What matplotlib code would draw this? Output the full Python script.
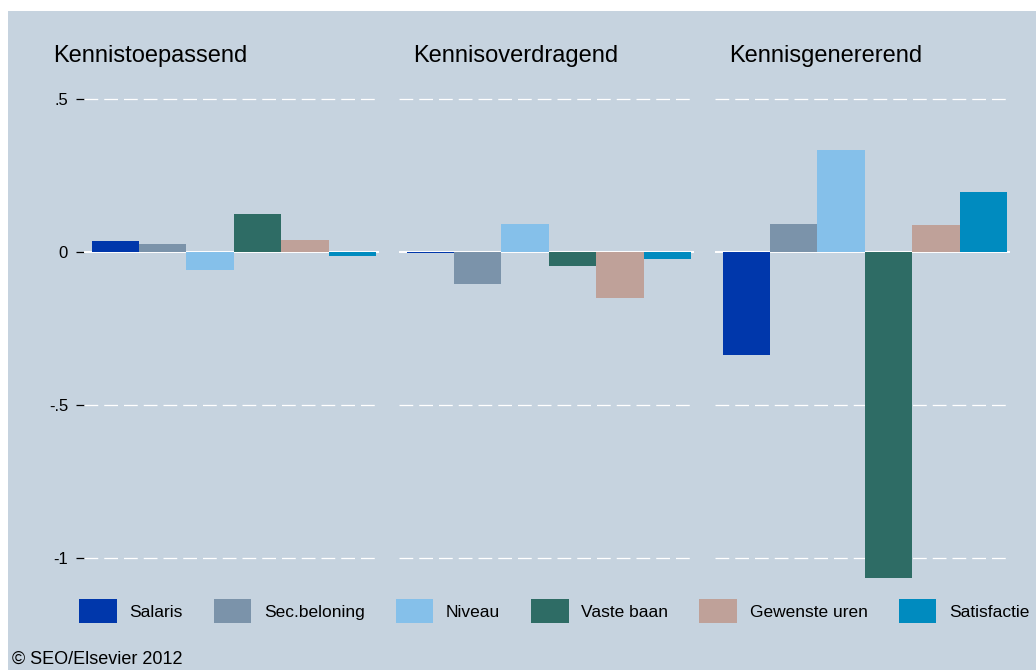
import numpy as np
import matplotlib
matplotlib.use('Agg')
import matplotlib.pyplot as plt
from matplotlib.patches import Rectangle

plt.rcParams['font.family'] = ['Liberation Sans', 'DejaVu Sans']

# data
panels = ['Kennistoepassend', 'Kennisoverdragend', 'Kennisgenererend']
series = ['Salaris', 'Sec.beloning', 'Niveau', 'Vaste baan', 'Gewenste uren', 'Satisfactie']
toepassend = [0.036, 0.026, -0.058, 0.124, 0.039, -0.013]
overdragend = [-0.003, -0.106, 0.092, -0.046, -0.151, -0.024]
genererend = [-0.338, 0.093, 0.333, -1.065, 0.087, 0.196]
yticks = [-1, -0.5, 0, 0.5]
yticklabels = ['-1', '-.5', '0', '.5']

colors = ['#0037AB', '#7B93AA', '#85C0EA', '#2E6C65', '#BFA199', '#008BBF']
bg = '#C6D3DF'

W, H = 1036, 670
fig = plt.figure(figsize=(W/100, H/100), dpi=100)
fig.patch.set_facecolor('white')

#light blue background area (white margin top and left)
fig.patches.append(Rectangle((8/W, 0), 1 - 8/W, 1 - 11/H, transform=fig.transFigure,
                             facecolor=bg, edgecolor='none', zorder=-5))

lefts = [84, 399, 715]
width = 295
top_px, bot_px = 80, 585
ymax = (252 - top_px)/306
ymin = (252 - bot_px)/306

values = [toepassend, overdragend, genererend]
handles = None
for i, (name, vals) in enumerate(zip(panels, values)):
    ax = fig.add_axes([lefts[i]/W, 1 - bot_px/H, width/W, (bot_px - top_px)/H])
    ax.set_facecolor('none')
    for s in ax.spines.values():
        s.set_visible(False)
    x = np.arange(len(vals))
    bars = ax.bar(x, vals, width=1.0, color=colors, edgecolor='none', zorder=3)
    if handles is None:
        handles = bars
    for yv in yticks:
        if yv == 0:
            ax.axhline(yv, color='white', lw=1.4, zorder=2)
        else:
            ax.axhline(yv, color='white', lw=0.9, dashes=(11, 4.8), zorder=2)
    ax.set_xlim(-0.66, 5.56)
    ax.set_ylim(ymin, ymax)
    ax.set_xticks([])
    if i == 0:
        ax.set_yticks(yticks)
        ax.set_yticklabels(yticklabels, fontsize=12)
        ax.tick_params(axis='y', length=6, width=0.9, pad=5.5, colors='black')
    else:
        ax.set_yticks([])
    fig.text([53, 413, 729][i]/W, 1 - 62/H, name, fontsize=17, va='baseline', ha='left')

leg = fig.legend(handles, series, loc='center left', bbox_to_anchor=(79/W, 1 - 611/H),
                 ncol=6, frameon=False, fontsize=12.5, handlelength=2.18, handleheight=1.8,
                 handletextpad=0.72, columnspacing=1.78, borderpad=0, borderaxespad=0)

fig.text(12/W, 2/H, '\u00a9 SEO/Elsevier 2012', fontsize=13, va='bottom', ha='left')

fig.savefig('out.png', dpi=100, facecolor=fig.get_facecolor())
